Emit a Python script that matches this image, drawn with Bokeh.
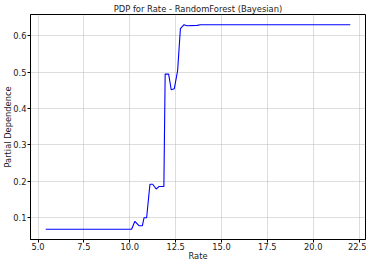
from bokeh.plotting import figure
from bokeh.models import FixedTicker, NumeralTickFormatter, Range1d
from bokeh.embed import file_html
from bokeh.resources import INLINE

rate = [5.42, 10.10, 10.28, 10.50, 10.69, 10.78, 10.92, 11.10, 11.25, 11.44, 11.60, 11.78,
        11.86, 11.93, 12.12, 12.26, 12.43, 12.61, 12.76, 12.96, 13.12, 13.67, 13.86, 22.02]
pdp = [0.068, 0.068, 0.090, 0.078, 0.078, 0.100, 0.100, 0.192, 0.192, 0.179, 0.186, 0.186,
       0.186, 0.495, 0.495, 0.452, 0.455, 0.505, 0.620, 0.631, 0.628, 0.629, 0.631, 0.631]
x_ticks = [5.0, 7.5, 10.0, 12.5, 15.0, 17.5, 20.0, 22.5]
y_ticks = [0.1, 0.2, 0.3, 0.4, 0.5, 0.6]

FONT = "DejaVu Sans"
TXT = "#1a1a1a"

p = figure(width=366, height=263, output_backend="svg", toolbar_location=None,
           title="PDP for Rate - RandomForest (Bayesian)",
           x_range=Range1d(4.59, 22.85), y_range=Range1d(0.040, 0.659),
           min_border_left=0, min_border_right=1, min_border_top=0, min_border_bottom=0)

p.line(rate, pdp, line_color="#0000ff", line_width=1.1)

p.title.align = "center"
p.title.text_font = FONT
p.title.text_font_size = "8.4px"
p.title.text_font_style = "normal"
p.title.text_color = TXT
p.title.offset = 0
p.title.standoff = 2

p.outline_line_color = "black"
p.outline_line_width = 1
p.outline_line_alpha = 1

for ax, lbl in ((p.xaxis[0], "Rate"), (p.yaxis[0], "Partial Dependence")):
    ax.axis_label = lbl
    ax.axis_label_text_font = FONT
    ax.axis_label_text_font_size = "8.3px"
    ax.axis_label_text_font_style = "normal"
    ax.axis_label_text_color = TXT
    ax.major_label_text_font = FONT
    ax.major_label_text_font_size = "8.3px"
    ax.major_label_text_color = TXT
    ax.major_tick_out = 3
    ax.major_tick_in = 0
    ax.minor_tick_out = 0
    ax.minor_tick_in = 0
    ax.axis_line_color = "black"
    ax.major_tick_line_color = "black"

p.xaxis.axis_label_standoff = -2
p.xaxis.major_label_standoff = 0
p.yaxis.axis_label_standoff = -3
p.yaxis.major_label_standoff = 1

p.xaxis.ticker = FixedTicker(ticks=x_ticks)
p.yaxis.ticker = FixedTicker(ticks=y_ticks)
p.xaxis.formatter = NumeralTickFormatter(format="0.0")
p.yaxis.formatter = NumeralTickFormatter(format="0.0")

p.xgrid.ticker = FixedTicker(ticks=x_ticks)
p.ygrid.ticker = FixedTicker(ticks=y_ticks)
p.grid.grid_line_color = "#b0b0b0"
p.grid.grid_line_alpha = 0.55
p.grid.grid_line_width = 0.8

p.background_fill_color = "white"
p.border_fill_color = "white"

open("out.html", "w").write(file_html(p, INLINE))
